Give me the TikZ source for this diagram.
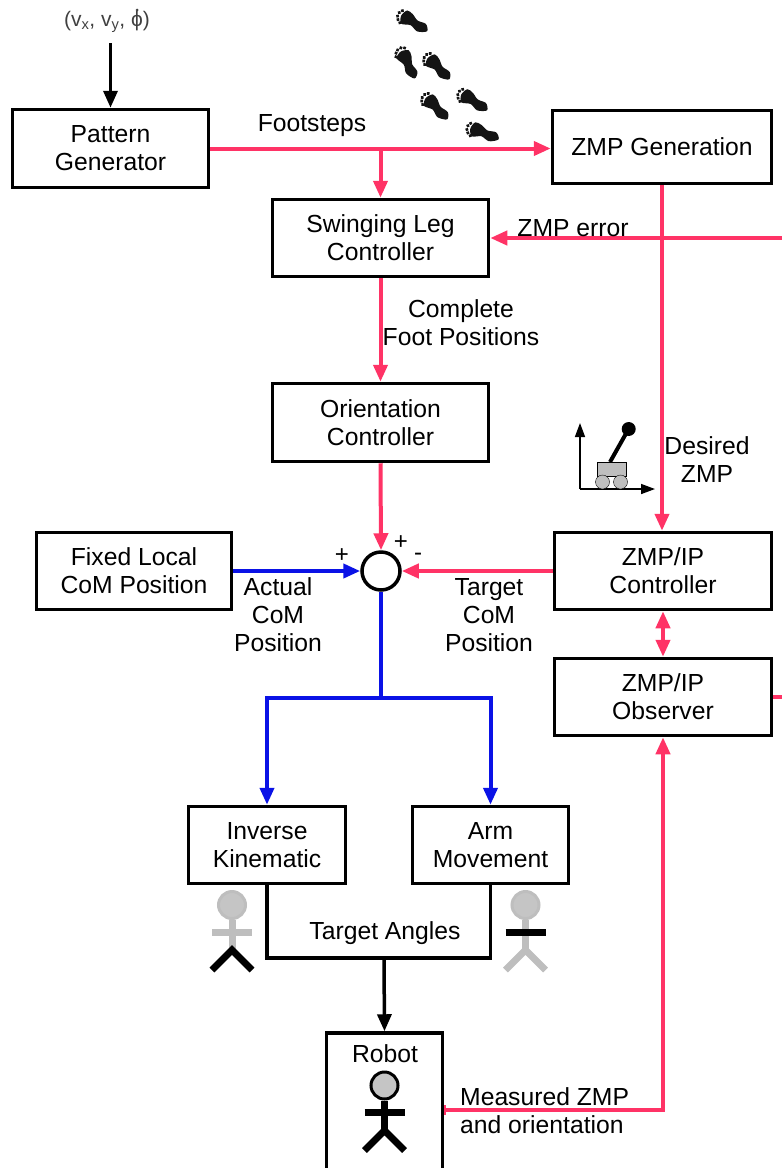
\documentclass[tikz,border=0pt]{standalone}
\usepackage{fontspec}
\setmainfont{Liberation Sans}
\usetikzlibrary{arrows.meta,calc}

\definecolor{sigpink}{HTML}{FF3366}
\definecolor{sigblue}{HTML}{0A12E6}
\definecolor{figgray}{HTML}{BEBEBE}

% x, y of the head, then colours of head, torso, arms, legs
\newcommand{\stickman}[6]{
\begin{scope}[shift={(#1,#2)}]
\draw[#4, line width=7pt] (0,15) -- (0,47);
\draw[#5, line width=7pt] (-20,27) -- (20,27);
\draw[#6, line width=7pt] (-20,65) -- (0,45) -- (20,65);
\draw[#3, line width=3pt, fill=figgray!90] (0,0) circle (13.5);
\end{scope}
}
% x, y of the heel and the turn of the foot
\newcommand{\footprint}[3]{
\begin{scope}[shift={(#1,#2)}, rotate=#3, scale=1.1]
\fill[black!92] plot[smooth cycle] coordinates {(0,5.5) (5,1) (3.5,-7) (6,-14) (6,-20) (-1,-22) (-7,-18) (-3.5,-10) (-5,-2)};
\foreach \toex/\toey in {-7/-19.5, -5.5/-22.5, -3/-24.5, 0.5/-25, 3.5/-23.5}
    \fill[black!92] (\toex,\toey) circle (1.7);
\end{scope}
}

\begin{document}
\begin{tikzpicture}[
    x=1pt, y=-1pt,
    every node/.style={font=\fontsize{24.7}{28}\selectfont, align=center},
    block/.style={draw, line width=3.5pt, inner sep=0pt, fill=white},
    label/.style={inner sep=0pt},
    headtip/.tip={Triangle[length=17pt,width=14pt]},
    pinkarr/.style={-headtip, line width=4pt, sigpink},
    pinkline/.style={line width=4pt, sigpink},
    bluearr/.style={-headtip, line width=4pt, sigblue},
    bluetree/.style={line width=4pt, sigblue},
    blackline/.style={line width=3.5pt},
    blackarr/.style={-headtip, line width=3.5pt},
    axisarr/.style={-{Triangle[length=14pt,width=10pt]}, line width=1.5pt}
]
\useasboundingbox (0,0) rectangle (782,1168);

\node[block, minimum width=196pt, minimum height=78pt] (pattern) at (110.5,148.5) {Pattern\\Generator};
\node[block, minimum width=219pt, minimum height=73pt] (zmpgen) at (662,147) {ZMP Generation};
\node[block, minimum width=216pt, minimum height=77pt] (swing) at (380.5,238) {Swinging Leg\\Controller};
\node[block, minimum width=216pt, minimum height=78pt] (orient) at (380.5,422.5) {Orientation\\Controller};
\node[block, minimum width=195pt, minimum height=77pt] (fixedcom) at (134,571) {Fixed Local\\CoM Position};
\node[block, minimum width=217pt, minimum height=77pt] (zmpctrl) at (663,571) {ZMP/IP\\Controller};
\node[block, minimum width=217pt, minimum height=77pt] (zmpobs) at (663,697) {ZMP/IP\\Observer};
\node[draw, circle, line width=3.5pt, minimum size=38pt, inner sep=0pt] (summer) at (381,571) {};
\node[block, minimum width=157pt, minimum height=77pt] (invkin) at (267,845) {Inverse\\Kinematic};
\node[block, minimum width=156pt, minimum height=77pt] (armmove) at (490.5,845) {Arm\\Movement};
\node[block, minimum width=116pt, minimum height=154pt] (robot) at (384.5,1110) {};

\coordinate (cmdin) at (110.5,43);
\coordinate (errin) at (782,238);
\coordinate (obsout) at (782,697);
\coordinate (bluefork) at (381,698);
\coordinate (anglesjoin) at (384,958);

\draw[blackarr] (cmdin) -- (pattern.north);
\draw[pinkarr] (pattern.east) -- (pattern.east -| zmpgen.west);
\draw[pinkarr] (pattern.east -| swing.north) -- (swing.north);
\draw[pinkarr] (errin) -- (swing.east);
\draw[pinkarr] (swing.south) -- (orient.north);
\draw[pinkarr] (orient.south) -- (summer.north);
\draw[pinkarr] (zmpgen.south) -- (zmpgen.south |- zmpctrl.north);
\draw[pinkarr] (zmpctrl.west) -- (summer.east);
\draw[pinkarr, headtip-headtip] (zmpctrl.south) -- (zmpobs.north);
\draw[pinkline] (zmpobs.east) -- (obsout);
\draw[pinkarr, {Bar[width=10pt,line width=1.5pt]}-headtip] (robot.east) -| (zmpobs.south);

\draw[bluearr] (fixedcom.east) -- (summer.west);
\draw[bluetree] (summer.south) -- (bluefork);
\draw[bluearr] (bluefork) -| (invkin.north);
\draw[bluearr] (bluefork) -| (armmove.north);

\draw[blackline] (invkin.south) |- (anglesjoin) -| (armmove.south);
\draw[blackarr] (anglesjoin) -- (robot.north);

% labels
\node[label, font=\fontsize{21}{24}\selectfont, text=black!75] (cmdtext) at (107,22) {(v\textsubscript{x}, v\textsubscript{y}, \char"03D5)};
\fill[black!75] ($(cmdtext.east)+(-13,-12)$) circle (1.5);
\node[label] (stepstext) at (312,126) {Footsteps};
\node[label] (errtext) at (573,228) {ZMP error};
\node[label] (feettext) at (461,323) {Complete\\Foot Positions};
\node[label] (desiredtext) at (707,460) {Desired\\ZMP};
\node[label] (actualtext) at (278,615) {Actual\\CoM\\Position};
\node[label] (targettext) at (489,615) {Target\\CoM\\Position};
\node[label] (anglestext) at (385,933) {Target Angles};
\node[label] (robottext) at (385,1054) {Robot};
\node[label, align=left, anchor=west] (measuredtext) at (460,1111) {Measured ZMP\\and orientation};
\node[label, font=\fontsize{24}{24}\selectfont] (plusa) at (342,556) {+};
\node[label, font=\fontsize{24}{24}\selectfont] (plusb) at (401,543) {+};
\node[label, font=\fontsize{24}{24}\selectfont] (minusc) at (418,557) {-};

% footsteps
\footprint{422}{28}{57}
\footprint{412}{73}{25}
\footprint{445}{75}{43}
\footprint{443}{115}{43}
\footprint{482}{107}{56}
\footprint{493}{137}{67}

% cart with pole
\draw[axisarr] (580,489) -- (580,423);
\draw[axisarr] (580,489) -- (655,489);
\draw[line width=4pt] (610,462) -- (628,430);
\fill (628.7,429) circle (7);
\draw[fill=figgray] (597,462) rectangle (626,476);
\draw[fill=figgray] (602.5,482) circle (7);
\draw[fill=figgray] (620.5,482) circle (7);

% stick figures
\stickman{232}{905}{figgray}{figgray}{figgray}{black}
\stickman{525.5}{905}{figgray}{figgray}{black}{figgray}
\stickman{384.5}{1085.5}{black}{black}{black}{black}
\end{tikzpicture}
\end{document}
